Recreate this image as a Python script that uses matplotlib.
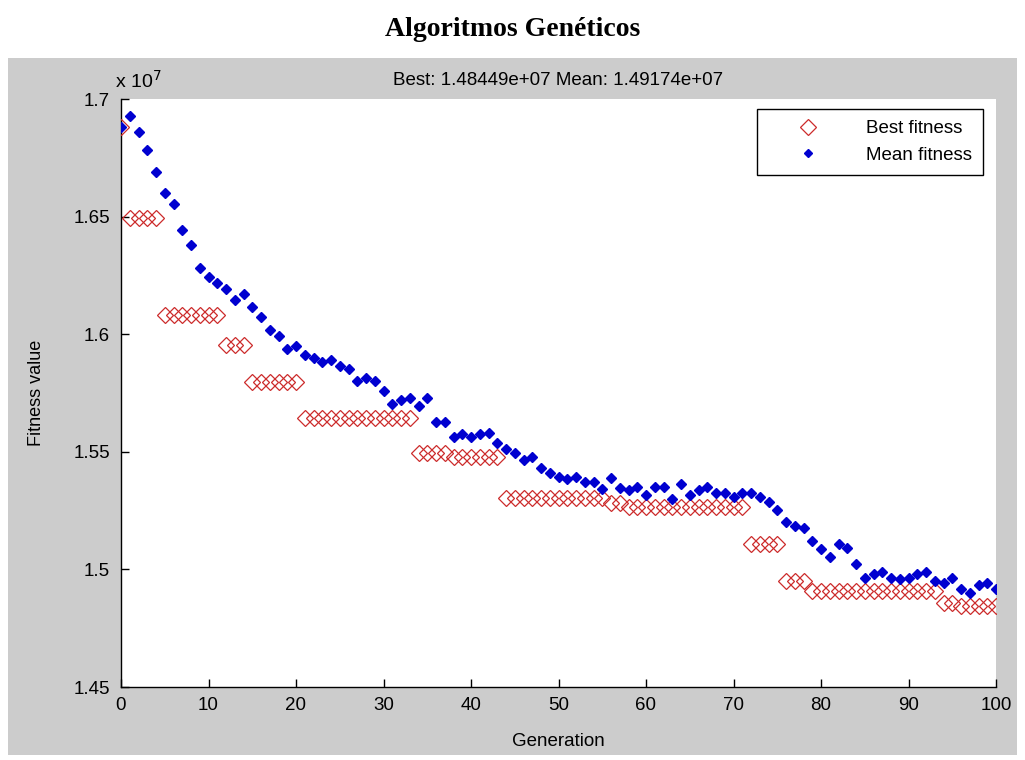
import matplotlib
matplotlib.use("Agg")
import matplotlib.pyplot as plt
from matplotlib.patches import Rectangle
from matplotlib.lines import Line2D

# ---- data (fitness values in units of 1e7) ----
generations = list(range(101))

best_fitness = [
    1.6882,
    1.6493, 1.6493, 1.6493, 1.6493,
    1.6082, 1.6082, 1.6082, 1.6082, 1.6082, 1.6082, 1.6082,
    1.5954, 1.5954, 1.5954,
    1.5797, 1.5797, 1.5797, 1.5797, 1.5797, 1.5797,
    1.5642, 1.5642, 1.5642, 1.5642, 1.5642, 1.5642, 1.5642, 1.5642, 1.5642, 1.5642, 1.5642, 1.5642, 1.5642,
    1.5496, 1.5496, 1.5496, 1.5496,
    1.5479, 1.5479, 1.5479, 1.5479, 1.5479, 1.5479,
    1.5302, 1.5302, 1.5302, 1.5302, 1.5302, 1.5302, 1.5302, 1.5302, 1.5302, 1.5302, 1.5302, 1.5302,
    1.5283, 1.5283,
    1.5264, 1.5264, 1.5264, 1.5264, 1.5264, 1.5264, 1.5264, 1.5264, 1.5264, 1.5264, 1.5264, 1.5264, 1.5264, 1.5264,
    1.5110, 1.5110, 1.5110, 1.5110,
    1.4952, 1.4952, 1.4952,
    1.4910, 1.4910, 1.4910, 1.4910, 1.4910, 1.4910, 1.4910, 1.4910, 1.4910, 1.4910, 1.4910, 1.4910, 1.4910, 1.4910, 1.4910,
    1.4858, 1.4858,
    1.48449, 1.48449, 1.48449, 1.48449, 1.48449,
]

mean_fitness = [
    1.6882, 1.6928, 1.6858, 1.6783, 1.6688, 1.6599, 1.6554, 1.6443, 1.6378, 1.6281,
    1.6244, 1.6216, 1.6192, 1.6147, 1.6171, 1.6117, 1.6072, 1.6018, 1.5992, 1.5936,
    1.5950, 1.5912, 1.5898, 1.5881, 1.5890, 1.5866, 1.5851, 1.5802, 1.5815, 1.5801,
    1.5759, 1.5704, 1.5720, 1.5727, 1.5695, 1.5727, 1.5628, 1.5628, 1.5564, 1.5574,
    1.5564, 1.5574, 1.5581, 1.5536, 1.5511, 1.5496, 1.5465, 1.5477, 1.5430, 1.5409,
    1.5392, 1.5383, 1.5394, 1.5373, 1.5373, 1.5341, 1.5387, 1.5345, 1.5338, 1.5352,
    1.5316, 1.5352, 1.5352, 1.5298, 1.5362, 1.5316, 1.5338, 1.5352, 1.5324, 1.5324,
    1.5307, 1.5324, 1.5324, 1.5307, 1.5285, 1.5253, 1.5203, 1.5185, 1.5177, 1.5121,
    1.5085, 1.5054, 1.5108, 1.5090, 1.5023, 1.4965, 1.4979, 1.4988, 1.4965, 1.4958,
    1.4965, 1.4979, 1.4990, 1.4951, 1.4941, 1.4965, 1.4915, 1.4898, 1.4934, 1.4943,
    1.49174,
]

x_ticks = [0, 10, 20, 30, 40, 50, 60, 70, 80, 90, 100]
y_ticks = [1.45, 1.5, 1.55, 1.6, 1.65, 1.7]
y_tick_labels = ["1.45", "1.5", "1.55", "1.6", "1.65", "1.7"]

main_title = "Algoritmos Genéticos"
plot_title = "Best: 1.48449e+07 Mean: 1.49174e+07"

RED = "#cc2b2b"
BLUE = "#0000d0"

# ---- figure ----
W, H = 1025, 760
fig = plt.figure(figsize=(W / 100, H / 100), dpi=100)
fig.patch.set_facecolor("white")

# gray MATLAB figure panel
fig.patches.append(Rectangle((8 / W, 1 - 755 / H), (1017 - 8) / W, (755 - 58) / H,
                             transform=fig.transFigure, facecolor="#cccccc",
                             edgecolor="none", zorder=0))

fig.text(0.5, 1 - 29 / H, main_title, ha="center", va="center",
         fontsize=20, fontweight="bold", family="Liberation Serif")

left, right, top, bottom = 121, 996, 99, 687
ax = fig.add_axes([left / W, 1 - bottom / H, (right - left) / W, (bottom - top) / H])
ax.set_facecolor("white")
ax.set_zorder(2)

ax.plot(generations, best_fitness, linestyle="none", marker="D", markersize=8.5,
        markerfacecolor="none", markeredgecolor=RED, markeredgewidth=0.9,
        label="Best fitness", zorder=3)
ax.plot(generations, mean_fitness, linestyle="none", marker="D", markersize=4.6,
        markerfacecolor=BLUE, markeredgecolor=BLUE, label="Mean fitness",
        zorder=4)

ax.set_xlim(0, 100)
ax.set_ylim(1.45, 1.7)
ax.set_xticks(x_ticks)
ax.set_xticklabels([str(t) for t in x_ticks])
ax.set_yticks(y_ticks)
ax.set_yticklabels(y_tick_labels)
ax.tick_params(direction="in", length=6, width=1, labelsize=13.5, colors="black")
ax.tick_params(axis="x", pad=7)
ax.tick_params(axis="y", pad=8)
for s in ["top", "right"]:
    ax.spines[s].set_visible(False)
for s in ["left", "bottom"]:
    ax.spines[s].set_linewidth(1)
    ax.spines[s].set_color("black")
for lab in ax.get_xticklabels() + ax.get_yticklabels():
    lab.set_family("Liberation Sans")

ax.set_xlabel("Generation", fontsize=13.5, family="Liberation Sans", labelpad=14)
ax.set_ylabel("Fitness value", fontsize=13, family="Liberation Sans", labelpad=20)
ax.set_title(plot_title, fontsize=13.5, family="Liberation Sans", pad=10)

ax.text(-0.007, 1.012, r"x 10$^{7}$", transform=ax.transAxes, ha="left", va="bottom",
        fontsize=14, family="Liberation Sans")

handles = [
    Line2D([], [], linestyle="none", marker="D", markersize=8.5, markerfacecolor="none",
           markeredgecolor=RED, markeredgewidth=0.9),
    Line2D([], [], linestyle="none", marker="D", markersize=4, markerfacecolor=BLUE,
           markeredgecolor=BLUE),
]
leg = ax.legend(handles, ["Best fitness", "Mean fitness"], loc="upper right",
                bbox_to_anchor=(983 / W, 1 - 109 / H), bbox_transform=fig.transFigure,
                fancybox=False, framealpha=1, edgecolor="black",
                prop={"family": "Liberation Sans", "size": 13.5},
                handlelength=4.2, handletextpad=1.0, borderpad=0.6,
                labelspacing=0.5, borderaxespad=0)
leg.get_frame().set_linewidth(1)

fig.savefig("out.png", dpi=100)
